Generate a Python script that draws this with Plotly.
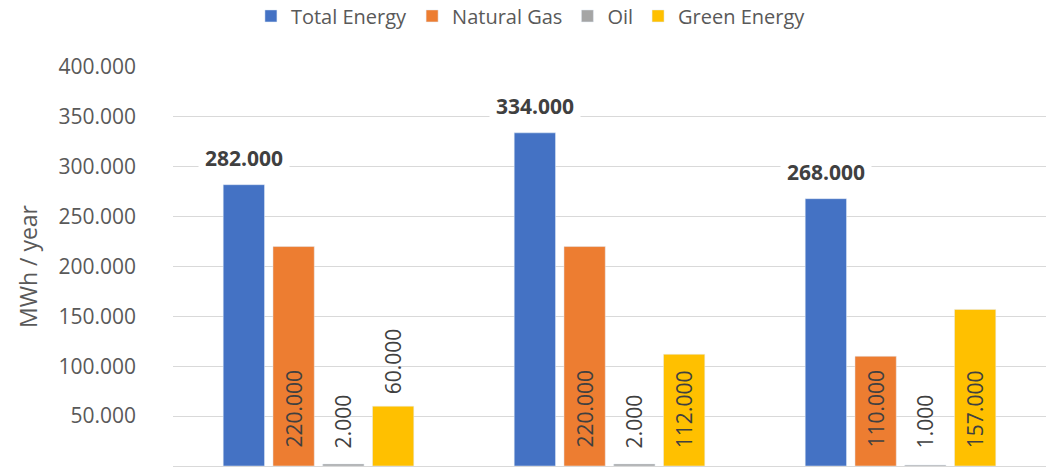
import plotly.graph_objects as go

# values (MWh / year)
scenarios = ["Scenario 1", "Scenario 2", "Scenario 3"]
total_energy = [282000, 334000, 268000]
natural_gas = [220000, 220000, 110000]
oil = [2000, 2000, 1000]
green_energy = [60000, 112000, 157000]

series_names = ["Total Energy", "Natural Gas", "Oil", "Green Energy"]
series_values = [total_energy, natural_gas, oil, green_energy]
series_colors = ["#4472C4", "#ED7D31", "#A5A5A5", "#FFC000"]

y_ticks = list(range(0, 400001, 50000))


def fmt(v):
    # 282000 -> "282.000"
    return f"{v:,}".replace(",", ".")


y_tick_text = ["-" if v == 0 else fmt(v) for v in y_ticks]

W, H = 1046, 469
margin = dict(l=173, r=0, t=67, b=3, autoexpand=False)
bargap, bargroupgap = 0.316, 0.17
ymax = y_ticks[-1]
px_per_unit = (H - margin["t"] - margin["b"]) / ymax
slot = (1 - bargap) / len(series_names)
font = "Open Sans"
text_col = "#595959"
label_col = "#404040"

fig = go.Figure()
for name, vals, color in zip(series_names, series_values, series_colors):
    fig.add_trace(go.Bar(x=scenarios, y=vals, name=name, marker_color=color))

annotations = []
for i, vals in enumerate(series_values):
    offset = (i - (len(series_values) - 1) / 2) * slot
    for j, v in enumerate(vals):
        if i == 0:
            annotations.append(dict(
                x=j + offset, y=v, xref="x", yref="y", text="<b>" + fmt(v) + "</b>",
                showarrow=False, yanchor="middle", yshift=27, bgcolor="white",
                borderpad=6, font=dict(family=font, size=21, color=label_col)))
        else:
            bar_px = v * px_per_unit
            label_px = len(fmt(v)) * 10.6
            above = 10 < bar_px < label_px + 30
            annotations.append(dict(
                x=j + offset, y=v if above else 0, xref="x", yref="y", text=fmt(v),
                showarrow=False, textangle=-90, yanchor="bottom",
                yshift=10 if above else 16,
                font=dict(family=font, size=21, color=label_col)))

fig.update_layout(
    width=W, height=H, margin=margin,
    paper_bgcolor="white", plot_bgcolor="white",
    barmode="group", bargap=bargap, bargroupgap=bargroupgap,
    font=dict(family=font, size=20, color=text_col),
    legend=dict(orientation="h", x=0.41, xanchor="center", y=1.128, yanchor="middle",
                font=dict(family=font, size=20, color=text_col)),
    annotations=annotations,
)
fig.update_xaxes(showticklabels=False, showgrid=False, showline=True,
                 linecolor="#D9D9D9", linewidth=1, range=[-0.5, 2.5])
fig.update_yaxes(range=[0, ymax], tickvals=y_ticks, ticktext=y_tick_text,
                 showgrid=True, gridcolor="#D9D9D9", gridwidth=1, zeroline=False,
                 ticklabelstandoff=36, tickfont=dict(family=font, size=21, color=text_col),
                 title=dict(text="MWh / year", standoff=14,
                            font=dict(family=font, size=23, color=text_col)))

# drop the default body margin so the figure fills the window exactly
fig.write_html("out.html", config={"displayModeBar": False},
               post_script="document.body.style.margin = '0';")
